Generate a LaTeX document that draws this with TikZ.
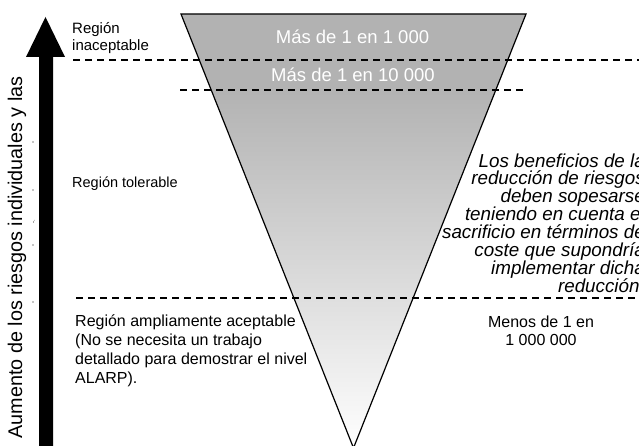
\documentclass[tikz,border=0pt]{standalone}
\usepackage{fontspec}
\setmainfont{Liberation Sans}
\begin{document}
\begin{tikzpicture}[x=1pt,y=1pt,
  dash line/.style={line width=1.5pt, dash pattern=on 7pt off 5pt},
  lbl/.style={inner sep=0pt, font=\fontsize{15}{16.5}\selectfont, align=left},
  wlbl/.style={inner sep=0pt, text=white, font=\fontsize{18.5}{20}\selectfont},
]
\useasboundingbox (0,0) rectangle (639,446);
\clip (0,0) rectangle (639,446);
% triangle
\coordinate (tl) at (181,432);
\coordinate (tr) at (526,432);
\coordinate (ap) at (353.5,-2);
\begin{scope}
  \clip (tl) -- (tr) -- (ap) -- cycle;
  \fill[gray!60] (150,356) rectangle (560,440);
  \shade[top color=gray!60, bottom color=white] (150,-4) rectangle (560,356.2);
\end{scope}
\draw[line width=1.2pt, line join=miter] (tl) -- (tr) -- (ap) -- cycle;
% dashed lines
\coordinate (d1a) at (73,386);  \coordinate (d1b) at (639,386);
\coordinate (d2a) at (180,356); \coordinate (d2b) at (524,356);
\coordinate (d3a) at (76,148);  \coordinate (d3b) at (639,148);
\draw[dash line] (d1a) -- (d1b);
\draw[dash line] (d2a) -- (d2b);
\draw[dash line] (d3a) -- (d3b);
% big arrow
\fill[black] (39,-2) -- (39,389) -- (26,389) -- (45.5,429) -- (65,389) -- (53,389) -- (53,-2) -- cycle;
% small dots
\foreach \yy in {304,256,201,144} \fill (33,\yy) circle (0.7pt);
\fill (33.5,223.5) -- (34.5,226) -- (33,223) -- cycle;
% texts
\node[lbl, anchor=west] (inac) at (72,408) {Región\\inaceptable};
\node[wlbl] (m1) at (352.5,409) {Más de 1 en 1 000};
\node[wlbl] (m2) at (353,371) {Más de 1 en 10 000};
\node[lbl, anchor=west, font=\fontsize{14.5}{16}\selectfont] (tol) at (72,262) {Región tolerable};
\node[inner sep=0pt, anchor=east, align=right, font=\fontsize{18.8}{17.9}\itshape\selectfont] (ben) at (645,223)
  {Los beneficios de la\\reducción de riesgos\\deben sopesarse\\teniendo en cuenta el\\sacrificio en términos de\\coste que supondría\\implementar dicha\\reducción.};
\node[lbl, align=center, font=\fontsize{16}{18}\selectfont] (men) at (541,115) {Menos de 1 en\\1 000 000};
\node[lbl, anchor=west, font=\fontsize{16}{19}\selectfont] (amp) at (75,95.5)
  {Región ampliamente aceptable\\(No se necesita un trabajo\\detallado para demostrar el nivel\\ALARP).};
\node[inner sep=0pt, rotate=90, font=\fontsize{19.8}{21}\selectfont] (aum) at (17,188.5) {Aumento de los riesgos individuales y las};
\end{tikzpicture}
\end{document}
